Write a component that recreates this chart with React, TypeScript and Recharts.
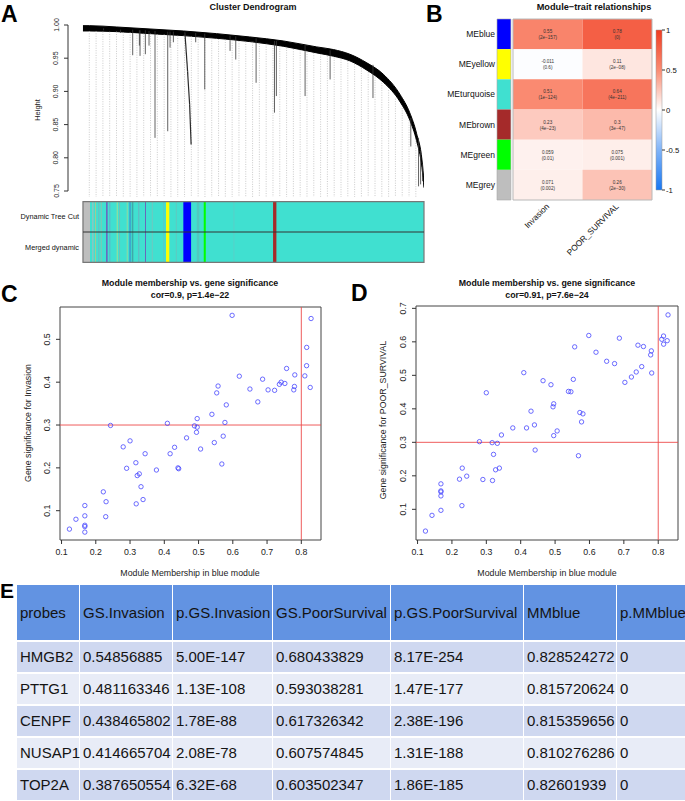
import React from 'react';
import {
  ComposedChart,
  ScatterChart,
  Scatter,
  Area,
  XAxis,
  YAxis,
  ReferenceLine,
  ReferenceArea,
} from 'recharts';

const FONT = '"Liberation Sans", Arial, Helvetica, sans-serif';

// ---------- A: dendrogram (x in leaf order units, y = height) ----------
const bandU = [-0.93, 0, 4.03, 8.93, 13.83, 18.7, 23.6, 28.5, 33.43, 35.9, 38.3, 40.8, 43.2, 45.7, 47.1, 48.1, 48.9, 49.2];
const bandTop = [0.999, 0.999, 0.997, 0.994, 0.991, 0.987, 0.982, 0.976, 0.967, 0.963, 0.956, 0.943, 0.926, 0.895, 0.868, 0.837, 0.797, 0.764];
const bandBottom = [0.991, 0.991, 0.99, 0.987, 0.984, 0.98, 0.975, 0.968, 0.958, 0.953, 0.946, 0.932, 0.914, 0.884, 0.857, 0.826, 0.785, 0.755];

const leafTop = [
  0.991, 0.991, 0.99, 0.99, 0.99, 0.989, 0.989, 0.988, 0.987, 0.987, 0.986, 0.986, 0.985, 0.984, 0.984, 0.983, 0.982,
  0.981, 0.98, 0.979, 0.978, 0.977, 0.976, 0.975, 0.974, 0.972, 0.971, 0.969, 0.968, 0.966, 0.964, 0.962, 0.96, 0.958,
  0.956, 0.953, 0.951, 0.948, 0.946, 0.941, 0.935, 0.929, 0.921, 0.913, 0.902, 0.889, 0.875, 0.857, 0.826,
];
const leafBottom = 0.741;

const dropU = [2.1, 4.6, 6.38, 7.36, 7.46, 8.24, 8.78, 9.66, 11.53, 11.87, 12.36, 15.64, 16.97, 20.69, 21.53, 24.52, 27.22, 27.5, 31.72, 35.4, 41.7, 47.26, 48.4, 48.7, 49.0];
const dropTop = [0.995, 0.993, 0.993, 0.992, 0.992, 0.992, 0.991, 0.991, 0.99, 0.99, 0.99, 0.988, 0.987, 0.984, 0.983, 0.98, 0.976, 0.976, 0.97, 0.962, 0.94, 0.86, 0.83, 0.81, 0.79];
const dropBottom = [0.992, 0.988, 0.9545, 0.969, 0.9535, 0.956, 0.969, 0.83, 0.84, 0.966, 0.974, 0.974, 0.903, 0.961, 0.948, 0.913, 0.868, 0.893, 0.893, 0.918, 0.89, 0.817, 0.757, 0.76, 0.765];
// the one slanted branch under the blue module
const slantU = [14.05, 14.45, 14.75, 14.97];
const slantH = [0.989, 0.93, 0.88, 0.82];

// module colour bars (leaf units)
const modFrom = [-0.93, -0.97, 0.44, 0.84, 1.32, 1.68, 2.45, 2.94, 4.03, 4.37, 5.5, 5.88, 6.24, 7.2, 8.19, 9.18, 10.88, 11.28, 12.71, 13.82, 15.79, 16.82, 21.18, 27.01];
const modTo = [49.2, 0.1, 0.6, 0.99, 1.47, 1.83, 2.7, 3.09, 4.18, 4.52, 5.65, 6.09, 6.47, 7.35, 8.32, 9.33, 11.03, 11.76, 12.86, 14.96, 16.18, 17.12, 21.33, 27.5];
const modColor = [
  '#40E0D0', '#BEBEBE', '#A8BCBC', '#A8C890', '#70B8C0', '#80C8B0', '#6A6AC0', '#60B0C8', '#A0E090', '#70C0B8',
  '#90D8A0', '#3898D0', '#40A8A8', '#6AB0C0', '#7058B8', '#70C8C0', '#60C8C0', '#FFFF00', '#60C8C0', '#0000FF',
  '#50C8C0', '#00FF00', '#58D0C8', '#A52A2A',
];
const barRows = ['Merged dynamic', 'Dynamic Tree Cut'];

// ---------- B: module-trait heatmap ----------
const moduleNames = ['MEblue', 'MEyellow', 'MEturquoise', 'MEbrown', 'MEgreen', 'MEgrey'];
const moduleColors = ['#0000FF', '#FFFF00', '#40E0D0', '#A52A2A', '#00FF00', '#BEBEBE'];
const traits = ['Invasion', 'POOR_SURVIVAL'];
const corInvasion = [0.55, -0.011, 0.51, 0.23, 0.059, 0.071];
const pInvasion = ['2e\u2212157', '0.6', '1e\u2212124', '4e\u221223', '0.01', '0.002'];
const corPoor = [0.78, 0.11, 0.64, 0.3, 0.075, 0.26];
const pPoor = ['0', '2e\u221208', '4e\u2212211', '3e\u221247', '0.001', '2e\u221230'];
const keyTicks = [-1, -0.5, 0, 0.5, 1];

// ---------- C / D: MM vs GS for the blue module ----------
const mmBlue = [
  0.123, 0.142, 0.168, 0.168, 0.168, 0.168, 0.168, 0.222, 0.23, 0.229, 0.243, 0.28, 0.29, 0.3, 0.317, 0.318, 0.321, 0.327,
  0.332, 0.338, 0.344, 0.377, 0.409, 0.417, 0.43, 0.44, 0.442, 0.465, 0.488, 0.494, 0.496, 0.496, 0.506, 0.539, 0.546,
  0.553, 0.557, 0.568, 0.572, 0.577, 0.581, 0.598, 0.619, 0.65, 0.673, 0.687, 0.703, 0.722, 0.736, 0.741, 0.752, 0.757,
  0.778, 0.78, 0.781, 0.8103, 0.8154, 0.8157, 0.826, 0.8285,
];
const gsInvasion = [
  0.057, 0.08, 0.112, 0.088, 0.066, 0.063, 0.05, 0.144, 0.121, 0.086, 0.299, 0.249, 0.199, 0.263, 0.212, 0.116, 0.182,
  0.186, 0.156, 0.126, 0.233, 0.195, 0.304, 0.233, 0.248, 0.2, 0.198, 0.27, 0.298, 0.283, 0.295, 0.315, 0.244, 0.325,
  0.259, 0.375, 0.391, 0.209, 0.274, 0.306, 0.347, 0.556, 0.414, 0.384, 0.354, 0.407, 0.382, 0.381, 0.395, 0.4, 0.397,
  0.432, 0.382, 0.39, 0.417, 0.4147, 0.4385, 0.4812, 0.3877, 0.5486,
];
const gsPoorSurvival = [
  0.035, 0.082, 0.176, 0.155, 0.152, 0.14, 0.097, 0.19, 0.223, 0.111, 0.199, 0.302, 0.189, 0.448, 0.299, 0.186, 0.264,
  0.218, 0.297, 0.223, 0.322, 0.343, 0.508, 0.343, 0.393, 0.352, 0.277, 0.484, 0.472, 0.406, 0.415, 0.32, 0.334, 0.452,
  0.451, 0.488, 0.585, 0.26, 0.389, 0.361, 0.385, 0.619, 0.569, 0.542, 0.535, 0.611, 0.479, 0.495, 0.51, 0.59, 0.526,
  0.586, 0.561, 0.573, 0.507, 0.6076, 0.6173, 0.593, 0.6035, 0.6804,
];
const mmTicks = [0.1, 0.2, 0.3, 0.4, 0.5, 0.6, 0.7, 0.8];
const invTicks = [0.1, 0.2, 0.3, 0.4, 0.5];
const poorTicks = [0.1, 0.2, 0.3, 0.4, 0.5, 0.6, 0.7];

// ---------- E: top genes table ----------
const tableHeader = ['probes', 'GS.Invasion', 'p.GS.Invasion', 'GS.PoorSurvival', 'p.GS.PoorSurvival', 'MMblue', 'p.MMblue'];
const probes = ['HMGB2', 'PTTG1', 'CENPF', 'NUSAP1', 'TOP2A'];
const tGsInvasion = ['0.54856885', '0.481163346', '0.438465802', '0.414665704', '0.387650554'];
const tPGsInvasion = ['5.00E-147', '1.13E-108', '1.78E-88', '2.08E-78', '6.32E-68'];
const tGsPoor = ['0.680433829', '0.593038281', '0.617326342', '0.607574845', '0.603502347'];
const tPGsPoor = ['8.17E-254', '1.47E-177', '2.38E-196', '1.31E-188', '1.86E-185'];
const tMmBlue = ['0.828524272', '0.815720624', '0.815359656', '0.810276286', '0.82601939'];
const tPMmBlue = ['0', '0', '0', '0', '0'];

// blue-white-red palette
const heatStops: [number, number[]][] = [
  [-1, [24, 119, 242]],
  [-0.5, [128, 180, 248]],
  [0, [255, 255, 255]],
  [0.5, [250, 140, 115]],
  [1, [240, 59, 32]],
];
function heat(v: number) {
  for (let i = 0; i < heatStops.length - 1; i++) {
    const [a, ca] = heatStops[i];
    const [b, cb] = heatStops[i + 1];
    if (v >= a && v <= b) {
      const t = (v - a) / (b - a);
      const c = ca.map((x, k) => Math.round(x + (cb[k] - x) * t));
      return `rgb(${c[0]},${c[1]},${c[2]})`;
    }
  }
  return '#fff';
}

function RotYTick(props: any) {
  const { x, y, payload, fontSize, shift, digits } = props;
  const label = digits ? Number(payload.value).toFixed(digits) : String(payload.value);
  const bx = x - shift;
  return (
    <text x={bx} y={y} transform={`rotate(-90, ${bx}, ${y})`} textAnchor="middle" fontSize={fontSize} fill="#222" fontFamily={FONT}>
      {label}
    </text>
  );
}

// plain right-aligned row label (no wrapping)
function RowTick(props: any) {
  const { x, y, payload, names, fontSize } = props;
  return (
    <text x={x} y={y} dy="0.35em" textAnchor="end" fontSize={fontSize} fill="#111" fontFamily={FONT}>
      {names[Math.floor(payload.value)]}
    </text>
  );
}

function ColTick(props: any) {
  const { x, y, payload } = props;
  const tx = x + 2;
  const ty = y - 1;
  return (
    <text x={tx} y={ty} transform={`rotate(-45, ${tx}, ${ty})`} textAnchor="end" fontSize={8.3} fill="#111" fontFamily={FONT}>
      {traits[Math.floor(payload.value)]}
    </text>
  );
}

const NoMark = () => <g />;

function Dendrogram() {
  const band = bandU.map((u, i) => ({ u, range: [bandBottom[i], bandTop[i]] }));
  return (
    <div style={{ position: 'absolute', left: 0, top: 0 }}>
      <ComposedChart width={440} height={200} data={band} margin={{ top: 25, right: 16, bottom: 9, left: 18 }}>
        <XAxis type="number" dataKey="u" domain={[-3.13, 49.2]} hide allowDataOverflow />
        <YAxis
          type="number"
          domain={[0.75, 1]}
          ticks={[0.75, 0.8, 0.85, 0.9, 0.95, 1]}
          width={50}
          allowDataOverflow
          tickSize={4}
          tickMargin={2}
          axisLine={{ stroke: '#333' }}
          tickLine={{ stroke: '#333' }}
          tick={<RotYTick fontSize={7} shift={3.5} digits={2} />}
        />
        {leafTop.map((h, i) => (
          <ReferenceLine
            key={`leaf${i}`}
            segment={[{ x: i, y: h }, { x: i, y: leafBottom }]}
            ifOverflow="visible"
            stroke="#b4b4b4"
            strokeWidth={0.7}
            strokeDasharray="1 1.4"
          />
        ))}
        {dropU.map((u, i) => (
          <ReferenceLine
            key={`drop${i}`}
            segment={[{ x: u, y: dropTop[i] }, { x: u, y: dropBottom[i] }]}
            ifOverflow="visible"
            stroke="#3a3a3a"
            strokeWidth={0.8}
          />
        ))}
        {slantU.slice(1).map((u, i) => (
          <ReferenceLine
            key={`slant${i}`}
            segment={[{ x: slantU[i], y: slantH[i] }, { x: u, y: slantH[i + 1] }]}
            ifOverflow="visible"
            stroke="#2a2a2a"
            strokeWidth={1.2}
          />
        ))}
        <Area
          type="monotone"
          dataKey="range"
          stroke="#000"
          strokeWidth={1}
          fill="#000"
          fillOpacity={1}
          dot={false}
          activeDot={false}
          isAnimationActive={false}
        />
      </ComposedChart>
    </div>
  );
}

function ModuleBars() {
  const mids = modFrom.map((f, i) => ({ x: (f + modTo[i]) / 2, y: 1 }));
  return (
    <div style={{ position: 'absolute', left: 0, top: 195 }}>
      <ComposedChart width={440} height={75} margin={{ top: 6.7, right: 16, bottom: 7.7, left: 0 }}>
        <XAxis type="number" dataKey="x" domain={[-0.93, 49.2]} hide allowDataOverflow />
        <YAxis
          type="number"
          dataKey="y"
          domain={[0, 2]}
          ticks={[0.5, 1.5]}
          width={83}
          axisLine={false}
          tickLine={false}
          tickSize={0}
          tickMargin={4}
          tick={<RowTick names={barRows} fontSize={7.3} />}
        />
        {modFrom.map((f, i) => (
          <ReferenceArea key={`m${i}`} x1={f} x2={modTo[i]} y1={0} y2={2} fill={modColor[i]} fillOpacity={1} stroke="none" ifOverflow="visible" />
        ))}
        <ReferenceLine y={1} stroke="#333" strokeWidth={1} />
        <ReferenceArea x1={-0.93} x2={49.2} y1={0} y2={2} fill="none" stroke="#777" strokeWidth={1.2} ifOverflow="visible" />
        <Scatter data={mids} shape={<NoMark />} isAnimationActive={false} />
      </ComposedChart>
    </div>
  );
}

function CellText(props: any) {
  const { cx, cy, payload } = props;
  return (
    <g fontFamily={FONT} fontSize={4.6} fill="#333" textAnchor="middle">
      <text x={cx} y={cy - 1}>{String(payload.r)}</text>
      <text x={cx} y={cy + 5}>({payload.p})</text>
    </g>
  );
}

function Heatmap() {
  const cols = [corInvasion, corPoor];
  const ps = [pInvasion, pPoor];
  const cells = cols.flatMap((vals, c) => vals.map((r, i) => ({ x: c + 0.5, y: i + 0.5, r, p: ps[c][i] })));
  return (
    <div style={{ position: 'absolute', left: 440, top: 0 }}>
      <ComposedChart width={245} height={270} margin={{ top: 19, right: 33, bottom: 10, left: 0 }}>
        <XAxis
          type="number"
          dataKey="x"
          domain={[-0.23, 2]}
          ticks={[0.5, 1.5]}
          height={60}
          axisLine={false}
          tickLine={false}
          allowDataOverflow
          tick={<ColTick />}
        />
        <YAxis
          type="number"
          dataKey="y"
          domain={[0, 6]}
          reversed
          ticks={[0.5, 1.5, 2.5, 3.5, 4.5, 5.5]}
          width={57}
          axisLine={false}
          tickLine={false}
          tickSize={0}
          tickMargin={2}
          tick={<RowTick names={moduleNames} fontSize={8.5} />}
        />
        {moduleColors.map((c, i) => (
          <ReferenceArea key={`s${i}`} x1={-0.23} x2={-0.03} y1={i} y2={i + 1} fill={c} fillOpacity={1} stroke="none" ifOverflow="visible" />
        ))}
        <ReferenceArea x1={-0.23} x2={-0.03} y1={0} y2={6} fill="none" stroke="#aaa" strokeWidth={0.6} ifOverflow="visible" />
        {cols.map((vals, c) =>
          vals.map((v, r) => (
            <ReferenceArea
              key={`c${c}-${r}`}
              x1={c}
              x2={c + 1}
              y1={r}
              y2={r + 1}
              fill={heat(v)}
              fillOpacity={1}
              stroke="none"
              ifOverflow="visible"
            />
          ))
        )}
        <ReferenceArea x1={0} x2={2} y1={0} y2={6} fill="none" stroke="#b8b8b8" strokeWidth={1} ifOverflow="visible" />
        <Scatter data={cells} shape={<CellText />} isAnimationActive={false} />
      </ComposedChart>
    </div>
  );
}

function ColourKey() {
  const pts = keyTicks.map((y) => ({ x: 0.5, y }));
  return (
    <div style={{ position: 'absolute', left: 640, top: 0 }}>
      <ComposedChart width={45} height={220} margin={{ top: 30, right: 0, bottom: 30, left: 16 }}>
        <defs>
          <linearGradient id="keyGrad" x1="0" y1="0" x2="0" y2="1">
            {heatStops
              .slice()
              .reverse()
              .map(([v]) => (
                <stop key={v} offset={`${((1 - v) / 2) * 100}%`} stopColor={heat(v)} />
              ))}
          </linearGradient>
        </defs>
        <XAxis type="number" dataKey="x" domain={[0, 1]} hide />
        <YAxis
          type="number"
          dataKey="y"
          orientation="right"
          domain={[-1, 1]}
          ticks={keyTicks}
          width={23}
          axisLine={false}
          tickSize={3}
          tickMargin={1}
          tickLine={{ stroke: '#333' }}
          tick={{ fontSize: 7.7, fill: '#111', fontFamily: FONT }}
        />
        <ReferenceArea x1={0} x2={1} y1={-1} y2={1} fill="url(#keyGrad)" fillOpacity={1} stroke="#999" strokeWidth={0.5} ifOverflow="visible" />
        <Scatter data={pts} shape={<NoMark />} isAnimationActive={false} />
      </ComposedChart>
    </div>
  );
}

function Circle(props: any) {
  return <circle cx={props.cx} cy={props.cy} r={2.2} fill="none" stroke="#3c3cff" strokeWidth={0.75} />;
}

function MMPanel(props: {
  left: number;
  top: number;
  width: number;
  marginLeft: number;
  marginRight: number;
  marginTop: number;
  gs: number[];
  yDomain: [number, number];
  yTicks: number[];
}) {
  const { left, top, width, marginLeft, marginRight, marginTop, gs, yDomain, yTicks } = props;
  const pts = mmBlue.map((x, i) => ({ x, y: gs[i] }));
  const xDomain: [number, number] = [0.0955, 0.8575];
  return (
    <div style={{ position: 'absolute', left, top }}>
      <ScatterChart width={width} height={305} margin={{ top: marginTop, right: marginRight, bottom: 10, left: marginLeft }}>
        <XAxis
          type="number"
          dataKey="x"
          domain={xDomain}
          ticks={mmTicks}
          allowDataOverflow
          height={30}
          axisLine={false}
          tickSize={4}
          tickMargin={5}
          tickLine={{ stroke: '#333' }}
          tick={{ fontSize: 8.8, fill: '#222', fontFamily: FONT }}
        />
        <YAxis
          type="number"
          dataKey="y"
          domain={yDomain}
          ticks={yTicks}
          allowDataOverflow
          width={40}
          axisLine={false}
          tickSize={4}
          tickMargin={2}
          tickLine={{ stroke: '#333' }}
          tick={<RotYTick fontSize={8.8} shift={4} />}
        />
        <ReferenceLine y={0.3} stroke="#ec4a4a" strokeWidth={0.9} />
        <ReferenceLine x={0.8} stroke="#ec4a4a" strokeWidth={0.9} />
        <Scatter data={pts} shape={<Circle />} isAnimationActive={false} />
        <ReferenceArea x1={xDomain[0]} x2={xDomain[1]} y1={yDomain[0]} y2={yDomain[1]} fill="none" stroke="#444" strokeWidth={1} ifOverflow="visible" />
      </ScatterChart>
    </div>
  );
}

function GeneTable() {
  const colW = [62, 93, 100, 118, 133, 93, 69];
  const rows = probes.map((p, i) => [p, tGsInvasion[i], tPGsInvasion[i], tGsPoor[i], tPGsPoor[i], tMmBlue[i], tPMmBlue[i]]);
  const cell = (txt: string, j: number, h: number, bg: string) => (
    <div
      key={j}
      style={{
        width: colW[j],
        height: h,
        lineHeight: `${h}px`,
        background: bg,
        boxSizing: 'border-box',
        borderLeft: j === 0 ? 'none' : '1.5px solid #fff',
        paddingLeft: 3,
        whiteSpace: 'nowrap',
        overflow: 'visible',
        position: 'relative',
        zIndex: 7 - j,
      }}
    >
      {txt}
    </div>
  );
  return (
    <div style={{ position: 'absolute', left: 17, top: 585, fontFamily: FONT, fontSize: 15, color: '#141414' }}>
      <div style={{ display: 'flex' }}>{tableHeader.map((t, j) => cell(t, j, 55, '#6293E2'))}</div>
      {rows.map((r, i) => (
        <div key={i} style={{ display: 'flex', marginTop: 2 }}>
          {r.map((t, j) => cell(t, j, 30, i % 2 === 0 ? '#CFD8F0' : '#E8ECF7'))}
        </div>
      ))}
    </div>
  );
}

export default function App() {
  return (
    <div style={{ position: 'absolute', left: 0, top: 0, width: 685, height: 801, background: '#fff', overflow: 'hidden', fontFamily: FONT }}>
      <Dendrogram />
      <ModuleBars />
      <Heatmap />
      <ColourKey />
      <MMPanel left={0} top={275} width={340} marginLeft={20} marginRight={19} marginTop={32} gs={gsInvasion} yDomain={[0.0316, 0.5755]} yTicks={invTicks} />
      <MMPanel left={340} top={275} width={345} marginLeft={36} marginRight={7} marginTop={31} gs={gsPoorSurvival} yDomain={[0.0084, 0.707]} yTicks={poorTicks} />
      <GeneTable />
      <svg width={685} height={801} style={{ position: 'absolute', left: 0, top: 0, pointerEvents: 'none' }} fontFamily={FONT}>
        <g fontWeight="bold" fill="#000" fontSize={23}>
          <text x={1} y={22}>A</text>
          <text x={426} y={22}>B</text>
          <text x={1} y={302}>C</text>
          <text x={351} y={301}>D</text>
          <text x={0} y={598} fontSize={21}>E</text>
        </g>
        <g fontWeight="bold" fill="#111" textAnchor="middle">
          <text x={253} y={9.5} fontSize={9}>Cluster Dendrogram</text>
          <text x={594} y={9.5} fontSize={9.2}>Module{'\u2212'}trait relationships</text>
          <text x={190} y={286} fontSize={8.8}>Module membership vs. gene significance</text>
          <text x={190} y={298} fontSize={8.8}>cor=0.9, p=1.4e{'\u2212'}22</text>
          <text x={547} y={286} fontSize={8.8}>Module membership vs. gene significance</text>
          <text x={547} y={298} fontSize={8.8}>cor=0.91, p=7.6e{'\u2212'}24</text>
        </g>
        <g fill="#222" textAnchor="middle" fontSize={8.8}>
          <text x={190} y={575.5}>Module Membership in blue module</text>
          <text x={547} y={575.5}>Module Membership in blue module</text>
          <text x={31} y={423} transform="rotate(-90, 31, 423)">Gene significance for  Invasion</text>
          <text x={386} y={420} transform="rotate(-90, 386, 420)">Gene significance for  POOR_SURVIVAL</text>
          <text x={39.5} y={110} fontSize={7.5} transform="rotate(-90, 39.5, 110)">Height</text>
        </g>
      </svg>
    </div>
  );
}
